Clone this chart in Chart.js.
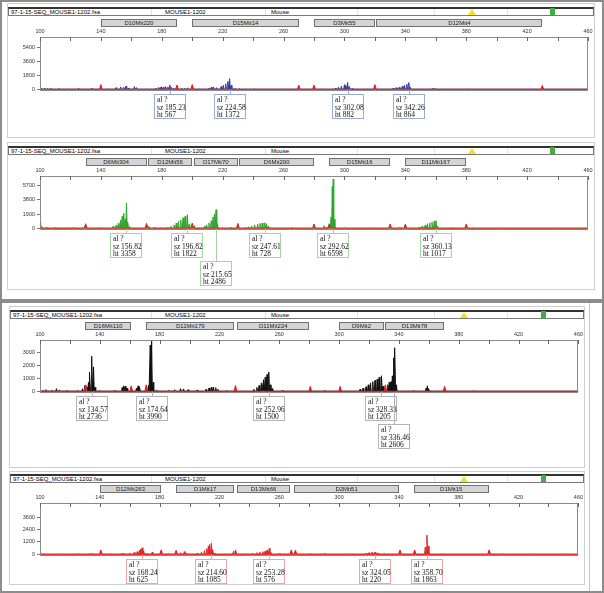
<!DOCTYPE html>
<html>
<head>
<meta charset="utf-8">
<script src="https://cdn.jsdelivr.net/npm/chart.js@4.4.1/dist/chart.umd.min.js"></script>
<style>
body{margin:0;width:604px;height:593px;position:relative;background:#fff;font-family:"Liberation Sans",Arial,sans-serif;overflow:hidden}
.frame{position:absolute;left:0;width:604px;box-sizing:border-box;border:2px solid #8c8c8c}
.panel{position:absolute;box-sizing:border-box;border:1px solid #cfcfcf}
.hdr{position:absolute;box-sizing:border-box;height:9px;border:1px solid #777;border-top:2px solid #333;background:#fff;font-size:6px;line-height:6px;color:#000;white-space:nowrap}
.hdr span{position:absolute;top:0}
.hdr i{position:absolute;top:0;width:1px;height:6px;background:#e2e2e2}
.tri{position:absolute;top:0;width:0;height:0;border-left:4px solid transparent;border-right:4px solid transparent;border-bottom:6px solid #f2e21a}
.sq{position:absolute;top:-1px;width:5px;height:7px;background:#3cb043}
.mk{position:absolute;box-sizing:border-box;height:8px;background:#d4d4d4;border:1px solid #707070;font-size:6px;line-height:6px;text-align:center;color:#222;white-space:nowrap;overflow:hidden}
.call{position:absolute;box-sizing:border-box;width:32px;height:25px;background:#fff;border:1px solid;font-family:"Liberation Serif","Times New Roman",serif;font-size:7.5px;line-height:7.5px;padding:1px 0 0 2px;color:#111;white-space:nowrap}
.lead{position:absolute;width:1px}
canvas{position:absolute}
</style>
</head>
<body>
<div class="frame" style="top:0;height:301px"></div>
<div class="frame" style="top:301px;height:292px"></div>
<div style="position:absolute;left:589px;top:303px;width:1px;height:288px;background:#c4c4c4"></div>
<script>
// ---- data ----
const xTickValues = [100,120,140,160,180,200,220,240,260,280,300,320,340,360,380,400,420,440,460];
const xLabels = [100,140,180,220,260,300,340,380,420,460];

// panel 1 (blue)
const p1Markers = ['D10Mit220','D15Mit14','D3Mit55','D12Mit4'];
const p1Bins = [[140,190],[200,270],[280,320],[321,430]];
const p1YTicks = [0,1800,3600,5400];
const p1Peaks = [[101,120],[103,150],[105,100],[107,130],[112,60],[118,50],[125,90],[134,150],[145,60],[150,200],[153,300],[155,250],[156.5,400],[158,150],[162,350],[163.5,200],[170,60],[176,150],[178,250],[179.5,300],[181,250],[182.5,350],[184,300],[185.23,567],[186.3,250],[188,120],[193,150],[195,120],[197,180],[205,60],[211,150],[212.5,250],[214,300],[216,200],[219,350],[220.5,500],[222,700],[223.4,1000],[224.58,1372],[225.6,500],[228,120],[231,100],[240,50],[260,40],[285,50],[294,150],[296,250],[298,400],[300,600],[301,500],[302.08,882],[303.2,350],[305,100],[332,150],[334,200],[336,250],[338,400],[339.5,500],[341,650],[342.26,864],[343.3,250],[358,120],[359,90],[380,40],[410,40]];
const p1Std = [[140,600],[190,550],[200,600],[270,550],[280,550],[320,600],[430,500]];
const p1Calls = [[185.23,567,0],[224.58,1372,0],[302.08,882,0],[342.26,864,0]];

// panel 2 (green)
const p2Markers = ['D6Mit304','D12Mit56','D17Mit70','D6Mit200','D15Mit16','D11Mit167'];
const p2Bins = [[130,170],[171,200],[201,230],[231,280],[290,330],[340,380]];
const p2YTicks = [0,1900,3800,5700];
const p2Peaks = [[100.3,800],[101,300],[104,100],[110,100],[118,80],[122,150],[128,60],[140,100],[145,80],[148,250],[150,400],[151.5,700],[153,1100],[154,1600],[155,2000],[155.9,1200],[156.82,3358],[157.8,800],[159,200],[165,80],[171.5,250],[175,120],[180,100],[184,150],[186,250],[188,450],[189.5,700],[191,900],[192.5,1100],[194,1400],[195.3,1600],[196.82,1822],[197.9,500],[201.5,350],[205,100],[208,250],[209.5,450],[211,700],[212.5,1000],[213.6,1500],[214.6,1900],[215.65,2486],[216.6,600],[220,80],[225,100],[235,120],[237,200],[239,300],[241,450],[243,550],[244.5,650],[246,700],[247.61,728],[248.8,600],[250,300],[252,100],[265,80],[286.5,350],[288,150],[291.2,1500],[292,5600],[292.62,6598],[293.3,1200],[300,80],[320,80],[336,100],[349,150],[351,250],[353,400],[354.5,600],[356,700],[357.5,850],[359,950],[360.13,1017],[361.1,300],[370,60],[400,60],[440,50]];
const p2Std = [[130,600],[170,650],[200,700],[230,650],[280,550],[290,600],[330,550],[340,550],[380,550]];
const p2Calls = [[156.82,3358,0],[196.82,1822,0],[215.65,2486,1],[247.61,728,0],[292.62,6598,0],[360.13,1017,0]];

// panel 3 (black)
const p3Markers = ['D16Mit110','D11Mit179','D11Mit224','D9Mit2','D13Mit78'];
const p3Bins = [[130,161],[171,230],[232,280],[300,330],[331,370]];
const p3YTicks = [0,1000,2000,3000];
const p3Peaks = [[102,80],[104,120],[108,80],[111,200],[113,100],[118,80],[125,60],[128.5,200],[130,450],[131.5,300],[132.4,700],[133.3,1500],[134.57,2736],[135.8,1900],[136.8,300],[140,60],[150,80],[155,300],[156,420],[157,380],[158.2,250],[164.5,250],[165.6,420],[166.6,300],[172.5,450],[173.7,3600],[174.64,3990],[175.6,700],[178,100],[186,80],[190,120],[194,200],[196,180],[199,120],[205,100],[211,150],[213,250],[214.5,300],[216,320],[217.5,280],[219,150],[225,60],[243,150],[245,300],[246.5,450],[248,650],[249.5,900],[250.6,1100],[251.8,1300],[252.96,1500],[254,500],[255.2,200],[262,60],[290,50],[314,150],[316,250],[318,350],[319.5,500],[321,650],[322.5,750],[324,850],[325.5,950],[326.8,1100],[328.33,1205],[329.4,400],[332.5,500],[333.5,700],[334.7,750],[335.6,1200],[336.46,2606],[337.3,3400],[338.3,500],[350,60],[358.2,250],[359,420],[360,200],[390,50]];
const p3Std = [[130.7,500],[161,420],[171,500],[230.7,450],[280.7,380],[300.7,380],[330.9,500],[370.5,380]];
const p3Calls = [[134.57,2736,0],[174.64,3990,0],[252.96,1500,0],[328.33,1205,0],[336.46,2606,1]];

// panel 4 (red)
const p4Markers = ['D12Mit263','D1Mit17','D13Mit66','D2Mit51','D1Mit15'];
const p4Bins = [[140,181],[191,230],[232,267],[270,340],[350,400]];
const p4YTicks = [0,1200,2400,3600];
const p4Peaks = [[102,60],[108,40],[115,50],[120,40],[126,60],[133,80],[135,100],[148,50],[155,80],[160,100],[163,180],[165,250],[166.5,400],[167.3,500],[168.24,625],[169.3,350],[171,100],[175,200],[186,80],[194,150],[196.5,250],[198,120],[205,100],[208,200],[210,350],[211.5,550],[212.6,800],[213.6,950],[214.6,1085],[215.6,450],[217,120],[238,60],[242,100],[245,150],[247,200],[249,250],[250.5,300],[251.8,400],[253.28,576],[254.3,200],[260,60],[280,50],[290,60],[305,50],[318,100],[320,150],[322,180],[324.05,220],[326,120],[330,60],[357.6,700],[358.7,1863],[359.6,800],[370,40],[410,40],[430,40],[450,40]];
const p4Std = [[140.7,420],[181,420],[191,380],[229.6,300],[230.7,420],[268,420],[270.8,400],[340.7,420],[350.5,420],[400.3,420]];
const p4Calls = [[168.24,625,0],[214.60,1085,0],[253.28,576,0],[324.05,220,0],[358.70,1863,0]];

// ---- layout ----
const panels = [
  {markers:p1Markers,bins:p1Bins,yTicks:p1YTicks,peaks:p1Peaks,std:p1Std,calls:p1Calls,yMax:6800,
   color:'#2b3ea6',callColor:'#9eaad6',box:[7,3,588,135],hdr:[8,7,586],markTop:19,tri:467,sq:549,
   cx:7,cy:24,w:588,h:114,axisW:33,padR:7,padB:48},
  {markers:p2Markers,bins:p2Bins,yTicks:p2YTicks,peaks:p2Peaks,std:p2Std,calls:p2Calls,yMax:7000,
   color:'#2fa62f',callColor:'#a3d6a0',box:[7,142,588,148],hdr:[8,146,586],markTop:158,tri:467,sq:549,
   cx:7,cy:163,w:588,h:127,axisW:33,padR:7,padB:61},
  {markers:p3Markers,bins:p3Bins,yTicks:p3YTicks,peaks:p3Peaks,std:p3Std,calls:p3Calls,yMax:4000,
   color:'#111111',callColor:'#b4b4b4',box:[9,306,576,162],hdr:[10,310,574],markTop:322,tri:459,sq:540,
   cx:9,cy:327,w:576,h:141,axisW:31,padR:6,padB:76},
  {markers:p4Markers,bins:p4Bins,yTicks:p4YTicks,peaks:p4Peaks,std:p4Std,calls:p4Calls,yMax:5000,
   color:'#e02828',callColor:'#f0a4a4',box:[9,471,576,114],hdr:[10,474,574],markTop:485,tri:459,sq:540,
   cx:9,cy:490,w:576,h:95,axisW:31,padR:6,padB:30}
];

function el(cls, css, html) {
  const d = document.createElement('div');
  d.className = cls;
  Object.assign(d.style, css);
  if (html) d.innerHTML = html;
  document.body.appendChild(d);
  return d;
}

// peaks -> spike outline points
function toLine(peaks, w) {
  const pts = [{x:100,y:0},{x:460,y:0}];
  peaks.forEach(([s,h]) => { pts.push({x:s-w,y:0},{x:s,y:h},{x:s+w,y:0}); });
  return pts.sort((a,b) => a.x - b.x);
}

function place(chart, p) {
  const x = chart.scales.x, a = chart.chartArea;
  p.markers.forEach((name, i) => {
    const l = x.getPixelForValue(p.bins[i][0]), r = x.getPixelForValue(p.bins[i][1]);
    el('mk', {left:(p.cx+l)+'px', top:p.markTop+'px', width:(r-l)+'px'}, name);
  });
  const base = Math.round(p.cy + a.bottom);
  p.calls.forEach(([sz, ht, row]) => {
    const c = Math.round(p.cx + x.getPixelForValue(sz));
    const top = base + 4 + row*28;
    el('lead', {left:c+'px', top:base+'px', height:(top-base)+'px', background:p.callColor});
    el('call', {left:(c-16)+'px', top:top+'px', borderColor:p.callColor},
      'al ?<br>sz ' + sz.toFixed(2) + '<br>ht ' + ht);
  });
}

const tickFont = {size:5.5, family:'Liberation Sans'};

panels.forEach((p, k) => {
  el('panel', {left:p.box[0]+'px', top:p.box[1]+'px', width:p.box[2]+'px', height:p.box[3]+'px'});
  el('hdr', {left:p.hdr[0]+'px', top:p.hdr[1]+'px', width:p.hdr[2]+'px'},
    '<span style="left:2px">97-1-15-SEQ_MOUSE1-1202.fsa</span>' +
    '<i style="left:' + (150-p.hdr[0]) + 'px"></i>' +
    '<span style="left:' + (164-p.hdr[0]) + 'px">MOUSE1-1202</span>' +
    '<i style="left:' + (264-p.hdr[0]) + 'px"></i>' +
    '<span style="left:' + (270-p.hdr[0]) + 'px">Mouse</span>' +
    '<i style="left:' + (356-p.hdr[0]) + 'px"></i><i style="left:' + (433-p.hdr[0]) + 'px"></i><i style="left:' + (506-p.hdr[0]) + 'px"></i>' +
    '<div class="tri" style="left:' + (p.tri-p.hdr[0]) + 'px"></div>' +
    '<div class="sq" style="left:' + (p.sq-p.hdr[0]) + 'px"></div>');

  const cv = document.createElement('canvas');
  cv.width = p.w; cv.height = p.h;
  cv.style.left = p.cx + 'px'; cv.style.top = p.cy + 'px';
  document.body.appendChild(cv);

  const overlay = {
    id: 'overlay' + k,
    afterDraw(chart) {
      const {ctx, chartArea: a, scales: {x}} = chart;
      ctx.save();
      ctx.strokeStyle = '#8a8a8a';
      ctx.lineWidth = 1;
      ctx.strokeRect(Math.round(a.left)+0.5, Math.round(a.top)+0.5, Math.round(a.right-a.left)-1, Math.round(a.bottom-a.top));
      ctx.strokeStyle = '#666';
      x.ticks.forEach(t => {
        const px = Math.round(x.getPixelForValue(t.value)) + 0.5;
        ctx.beginPath(); ctx.moveTo(px, a.top); ctx.lineTo(px, a.top + 4); ctx.stroke();
      });
      ctx.restore();
      if (!chart.$placed) { chart.$placed = true; place(chart, p); }
    }
  };

  new Chart(cv.getContext('2d'), {
    type: 'line',
    data: {
      datasets: [
        {data: toLine(p.std, 0.9), borderColor:'#e02020', backgroundColor:'#e02020', fill:'origin', borderWidth:1, pointRadius:0, tension:0},
        {data: toLine(p.peaks, 0.45), borderColor:p.color, backgroundColor:p.color, fill:'origin', borderWidth:1, pointRadius:0, tension:0}
      ]
    },
    options: {
      responsive: false, animation: false, events: [],
      layout: {padding: {left:0, top:0, right:p.padR, bottom:p.padB}},
      plugins: {legend:{display:false}, tooltip:{enabled:false}},
      scales: {
        x: {
          type:'linear', position:'top', min:100, max:460,
          afterBuildTicks: s => { s.ticks = xTickValues.map(v => ({value:v})); },
          afterFit: s => { s.height = 13; },
          grid: {display:false, drawTicks:false, tickLength:0}, border: {display:false},
          ticks: {autoSkip:false, maxRotation:0, padding:2, color:'#333', font:tickFont,
                  callback: v => xLabels.includes(v) ? String(v) : ''}
        },
        y: {
          min: -p.yMax*0.015, max: p.yMax,
          afterBuildTicks: s => { s.ticks = p.yTicks.map(v => ({value:v})); },
          afterFit: s => { s.width = p.axisW; },
          grid: {display:true, drawOnChartArea:false, tickLength:3, color:'#777'}, border: {display:false},
          ticks: {padding:2, color:'#333', font:tickFont, callback: v => String(v)}
        }
      }
    },
    plugins: [overlay]
  });
});
</script>
</body>
</html>
